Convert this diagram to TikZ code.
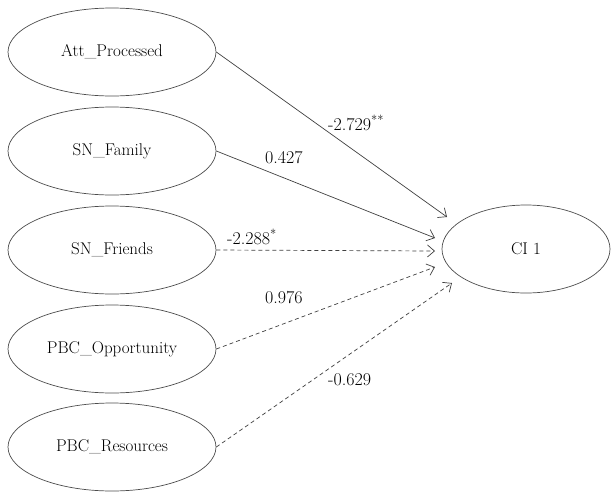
\documentclass[tikz,border=0pt]{standalone}
\usetikzlibrary{shapes.geometric,arrows.meta}
\begin{document}
\begin{tikzpicture}[x=1pt,y=-1pt,
  latent/.style={draw=black!70,line width=0.7pt,ellipse,minimum width=208pt,minimum height=88pt,inner sep=0pt,font=\fontsize{17}{20}\selectfont},
  path/.style={draw=black!75,line width=0.7pt,-{Straight Barb[length=7pt,width=12pt,line width=0.7pt]}},
  dpath/.style={path,dash pattern=on 4pt off 3pt},
  coef/.style={font=\fontsize{18}{20}\selectfont,inner sep=0pt}]
\useasboundingbox (0,0) rectangle (611,491);
\node[latent] (att) at (112,52) {Att\_Processed};
\node[latent] (fam) at (112,151) {SN\_Family};
\node[latent] (fri) at (112,250) {SN\_Friends};
\node[latent] (opp) at (112,349) {PBC\_Opportunity};
\node[latent] (res) at (112,447) {PBC\_Resources};
\node[latent,minimum width=168pt] (ci) at (526,249) {CI 1};
\coordinate (t1) at (447,217);
\coordinate (t2) at (435,238);
\coordinate (t3) at (435,251);
\coordinate (t4) at (435,267);
\coordinate (t5) at (452,283);
\draw[path] (att.east) -- (t1);
\draw[path] (fam.east) -- (t2);
\draw[dpath] (fri.east) -- (t3);
\draw[dpath] (opp.east) -- (t4);
\draw[dpath] (res.east) -- (t5);
\node[coef,anchor=west] (c1) at (328,123) {-2.729\textsuperscript{**}};
\node[coef,anchor=west] (c2) at (265,158) {0.427};
\node[coef,anchor=west] (c3) at (227,237) {-2.288\textsuperscript{*}};
\node[coef,anchor=west] (c4) at (265,298) {0.976};
\node[coef,anchor=west] (c5) at (328,380) {-0.629};
\end{tikzpicture}
\end{document}
